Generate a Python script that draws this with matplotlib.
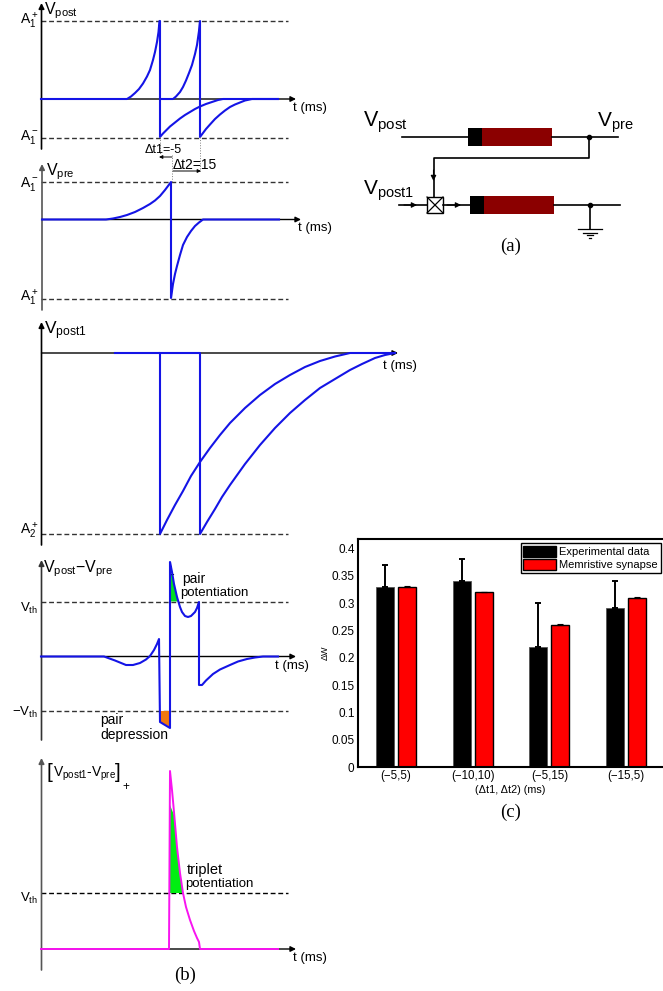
from matplotlib import pyplot as plt
from matplotlib.patches import Rectangle, Polygon

plt.rcParams['font.family'] = ['Liberation Sans', 'DejaVu Sans']
plt.rcParams['mathtext.fontset'] = 'custom'
plt.rcParams['mathtext.rm'] = 'Liberation Sans'
plt.rcParams['mathtext.it'] = 'Liberation Sans'
plt.rcParams['mathtext.bf'] = 'Liberation Sans:bold'

BLUE = '#1414e6'
MAGENTA = '#f814f0'

# bar chart values
pairs = ['(\u22125,5)', '(\u221210,10)', '(\u22125,15)', '(\u221215,5)']
experimental = [0.33, 0.34, 0.22, 0.29]
experimental_err = [0.04, 0.04, 0.08, 0.05]
memristive = [0.33, 0.32, 0.26, 0.31]
memristive_err = [0.001, 0.001, 0.001, 0.001]
yticks = [0, 0.05, 0.1, 0.15, 0.2, 0.25, 0.3, 0.35, 0.4]
yticklabels = ['0', '0.05', '0.1', '0.15', '0.2', '0.25', '0.3', '0.35', '0.4']

# waveforms (x, y in picture pixels)
post_x1 = [41, 127, 131, 135, 139, 143, 147, 150, 153, 155, 157, 158.5, 159.5, 160, 160, 163, 166, 170, 175, 180,
           185, 190, 195, 200, 206, 212, 218, 223, 278]
post_y1 = [99, 99, 96.5, 93, 89, 83.5, 76.5, 70, 60, 52, 42, 32, 21, 21, 137, 133.5, 130.5, 126.5, 122.5, 118.5,
           115, 112, 109, 106.5, 104, 102, 100, 99, 99]
post_x2 = [160, 173, 176, 180, 183, 186, 189, 192, 195, 197, 199, 200, 200, 203, 206, 210, 215, 220, 225, 230,
           235, 240, 245, 252, 278]
post_y2 = [99, 99, 96.5, 92, 87, 80.5, 73, 65, 54, 45, 31, 21, 137, 133, 129, 124.5, 119, 114.5, 110.5, 107,
           104.5, 102.5, 100.5, 99, 99]

pre_x = [42, 106, 113, 120, 127, 135, 143, 150, 155, 160, 165, 171, 171, 173, 175, 177, 180, 183, 187, 191, 195,
         199, 203, 279]
pre_y = [219.5, 219.5, 218.5, 217, 215, 212, 208, 204, 200.5, 196, 190, 182, 298, 284, 274, 266, 255, 245, 237,
         231, 226, 222.5, 219.5, 219.5]

post1_x1 = [115, 160, 160, 167, 175, 183, 191, 200, 210, 220, 230, 245, 260, 275, 290, 305, 320, 335, 350, 395]
post1_y1 = [353, 353, 534, 520, 505, 491, 476, 462, 448, 435, 423, 408, 395, 384, 375, 367, 361, 356.5, 353, 353]
post1_x2 = [160, 200, 200, 207, 215, 222, 230, 245, 260, 275, 290, 305, 320, 335, 350, 362, 375, 385, 395]
post1_y2 = [353, 353, 534, 522, 509, 497, 485, 464, 445, 428, 413, 400, 388, 379, 370, 364, 358, 355, 353]

diff_x = [41, 104, 115, 126, 133, 140, 146, 150, 154, 157, 159, 160, 170, 170, 172, 174, 177, 180, 182, 185, 188,
          191, 195, 197, 199, 199, 202, 206, 213, 220, 230, 238, 247, 255, 263, 278]
diff_y = [656.5, 656.5, 660.5, 665, 665, 663, 659.5, 656, 650, 644, 639, 722, 728, 562, 572, 584, 597, 607, 612,
          616, 617, 616, 612, 608, 602, 685, 685, 680.5, 674, 669.5, 665, 661.5, 659, 657.5, 656.5, 656.5]

trip_x = [41, 169, 170, 172, 174, 177, 180, 183, 186, 190, 194, 197, 199, 200, 278]
trip_y = [949, 949, 771, 790, 812, 847, 873, 893, 907, 920, 931, 938, 942, 949, 949]

fig = plt.figure(figsize=(6.63, 9.91), dpi=100)
ax = fig.add_axes([0, 0, 1, 1])
ax.set_xlim(0, 663)
ax.set_ylim(991, 0)
ax.axis('off')


def arrow(x0, y0, x1, y1, color='black', lw=1.0, size=8, z=1.5):
    ax.annotate('', xy=(x1, y1), xytext=(x0, y0), zorder=z,
                arrowprops=dict(arrowstyle='-|>', color=color, lw=lw, mutation_scale=size,
                                shrinkA=0, shrinkB=0))


def axes_pair(x, top, bottom, y0, right, color='black'):
    arrow(x, bottom, x, top, color=color, lw=1.2)
    arrow(x, y0, right, y0, lw=1.0)


def dashed(y, x0=41, x1=288, color='#333333'):
    ax.plot([x0, x1], [y, y], color=color, lw=1.0, ls=(0, (3.5, 2)), zorder=1)


# panel 1
axes_pair(41.5, 3, 149, 99, 296)
dashed(21)
dashed(137.5)
ax.plot(post_x1, post_y1, color=BLUE, lw=1.5)
ax.plot(post_x2, post_y2, color=BLUE, lw=1.5)
ax.plot([160, 160], [137, 155], color='gray', lw=0.7, ls=':')
ax.plot([200, 200], [137, 172], color='gray', lw=0.7, ls=':')
ax.plot([172, 172], [155, 182], color='gray', lw=0.7, ls=':')
arrow(172, 157, 159, 157, size=5, lw=0.7)
arrow(173, 171, 201, 171, size=5, lw=0.7)
ax.text(145, 150, '\u0394t1=-5', fontsize=9, va='center')
ax.text(173, 165, '\u0394t2=15', fontsize=10, va='center')

# panel 2
axes_pair(42, 164, 310, 219.5, 301, color='#555555')
dashed(182)
dashed(298.5)
ax.plot(pre_x, pre_y, color=BLUE, lw=1.5)

# panel 3
axes_pair(41.5, 322, 545, 353, 398)
dashed(534)
ax.plot(post1_x1, post1_y1, color=BLUE, lw=1.5)
ax.plot(post1_x2, post1_y2, color=BLUE, lw=1.5)

# panel 4
axes_pair(41.5, 560, 740, 656.5, 296, color='#333333')
dashed(601.5)
dashed(710.5)
ax.add_patch(Polygon([(170, 601.5), (170, 573), (172, 575), (174, 584), (177, 597), (178, 601.5)],
                     fc='#00dd22', ec='none'))
ax.plot([170, 173], [574, 574], color='black', lw=0.8)
ax.add_patch(Polygon([(160, 711), (170, 711), (170, 727), (160, 722)], fc='#f07810', ec='none'))
ax.plot(diff_x, diff_y, color=BLUE, lw=1.5)
ax.text(182, 579, 'pair', fontsize=10, va='center')
ax.text(180, 593, 'potentiation', fontsize=9.5, va='center')
ax.text(100, 720, 'pair', fontsize=10, va='center')
ax.text(100, 735, 'depression', fontsize=10, va='center')

# panel 5
axes_pair(41.5, 758, 970, 949, 296, color='#555555')
dashed(893, color='black')
ax.add_patch(Polygon([(170, 893), (170, 805), (174, 815), (177, 847), (180, 873), (183, 893)],
                     fc='#00ee11', ec='none'))
ax.plot(trip_x, trip_y, color=MAGENTA, lw=1.4)
ax.text(187, 870, 'triplet', fontsize=10.5, va='center')
ax.text(185.5, 884, 'potentiation', fontsize=9.5, va='center')

# axis names
for x, y, s, size in [(44, 11, r'$\mathrm{V_{post}}$', 11.5), (46, 172, r'$\mathrm{V_{pre}}$', 11.5),
                      (44, 331, r'$\mathrm{V_{post1}}$', 12.5),
                      (43, 569, r'$\mathrm{V_{post}}$' + '\u2212' + r'$\mathrm{V_{pre}}$', 11.5)]:
    ax.text(x, y, s, fontsize=size, va='center')
ax.text(46, 772, '[', fontsize=15, va='center')
ax.text(53, 774, r'$\mathrm{V_{post1}}$-$\mathrm{V_{pre}}$', fontsize=10, va='center')
ax.text(115, 772, ']', fontsize=15, va='center')
ax.text(122, 787, '+', fontsize=8.5, va='center')

for x, y in [(293, 108), (298, 228), (383, 366), (275, 666), (293, 958)]:
    ax.text(x, y, 't (ms)', fontsize=9.5, va='center')

for y, s in [(21, r'$\mathrm{A_1^+}$'), (137, r'$\mathrm{A_1^-}$'), (184, r'$\mathrm{A_1^-}$'),
             (298, r'$\mathrm{A_1^+}$'), (531, r'$\mathrm{A_2^+}$')]:
    ax.text(29, y, s, fontsize=10, ha='center', va='center')
for x, y, s in [(29, 608, r'$\mathrm{V_{th}}$'), (25, 712, '\u2212' + r'$\mathrm{V_{th}}$'),
                (29, 898, r'$\mathrm{V_{th}}$')]:
    ax.text(x, y, s, fontsize=9.5, ha='center', va='center')

# circuit (a)
for y, x_off in [(137.3, 0), (205, 2)]:
    ax.add_patch(Rectangle((468 + x_off, y - 9), 14, 17.5, fc='black', ec='none'))
    ax.add_patch(Rectangle((482 + x_off, y - 9), 70, 17.5, fc='#8b0000', ec='none'))
ax.plot([402, 468], [137.3, 137.3], color='black', lw=1.2)
ax.plot([552, 618], [137.3, 137.3], color='black', lw=1.2)
ax.plot([589, 589, 433.5, 433.5], [137.3, 157.7, 157.7, 197], color='black', lw=1.2)
ax.plot([399, 427], [205, 205], color='black', lw=1.2)
ax.plot([443, 470], [205, 205], color='black', lw=1.2)
ax.plot([554, 620], [205, 205], color='black', lw=1.2)
ax.plot([590, 590], [205, 229], color='black', lw=1.2)
ax.plot([589, 590], [137.3, 205], color='black', marker='o', ms=3, ls='none')
arrow(433.5, 170, 433.5, 181, size=8, lw=0.8, z=3)
arrow(404, 205, 417, 205, size=8, lw=0.8, z=3)
arrow(447, 205, 461, 205, size=8, lw=0.8, z=3)
ax.add_patch(Rectangle((427, 197), 16, 16, fc='white', ec='black', lw=1.0))
ax.plot([427, 443], [197, 213], color='black', lw=0.9)
ax.plot([427, 443], [213, 197], color='black', lw=0.9)
for y, half in [(229.3, 12), (232.7, 7), (235.3, 3), (237.7, 1)]:
    ax.plot([590 - half, 590 + half], [y, y], color='black', lw=0.9)
ax.text(363, 122, r'$\mathrm{V_{post}}$', fontsize=15.5, va='center')
ax.text(597, 123, r'$\mathrm{V_{pre}}$', fontsize=15, va='center')
ax.text(363, 191, r'$\mathrm{V_{post1}}$', fontsize=15, va='center')

for x, y, s in [(511, 246, '(a)'), (185, 975, '(b)'), (511, 812, '(c)')]:
    ax.text(x, y, s, fontsize=13.5, family='Liberation Serif', ha='center', va='center')

# bar chart (c)
bx = fig.add_axes([358 / 663, 1 - 767 / 991, 305 / 663, 228.5 / 991])
bx.patch.set_alpha(0)
pos = [1, 2, 3, 4]
off = 0.143
w = 0.235
bx.bar([p - off for p in pos], experimental, w, color='black', edgecolor='#555555', lw=0.6,
       yerr=[[0] * 4, experimental_err],
       error_kw=dict(ecolor='black', lw=1.4, capsize=2.2, capthick=1.4))
bx.bar([p + off for p in pos], memristive, w, color='#ff0000', edgecolor='black', lw=1.0,
       yerr=[[0] * 4, memristive_err],
       error_kw=dict(ecolor='black', lw=0.8, capsize=2.2, capthick=0.8))
bx.set_xlim(0.505, 4.48)
bx.set_ylim(0, 0.418)
bx.set_xticks(pos)
bx.set_xticklabels(pairs, fontsize=8.3)
bx.set_yticks(yticks)
bx.set_yticklabels(yticklabels, fontsize=8.5)
bx.tick_params(axis='both', length=0, pad=2.5)
bx.spines['right'].set_visible(False)
for side in ['left', 'top', 'bottom']:
    bx.spines[side].set_linewidth(1.5)
bx.set_xlabel('(\u0394t1, \u0394t2) (ms)', fontsize=7.8, labelpad=2)
bx.set_ylabel('\u0394W', fontsize=6.5, labelpad=1)
handles = [Rectangle((0, 0), 1, 1, fc='black', ec='black'),
           Rectangle((0, 0), 1, 1, fc='#ff0000', ec='black', lw=1.0)]
leg = bx.legend(handles, ['Experimental data', 'Memristive synapse'], loc='upper right',
                bbox_to_anchor=(0.993, 0.98), fontsize=8, fancybox=False, framealpha=1,
                edgecolor='black', borderpad=0.25, labelspacing=0.15, handlelength=2.9,
                handleheight=1.2, handletextpad=0.35, borderaxespad=0)
leg.get_frame().set_linewidth(1.0)

fig.savefig('out.png', dpi=100)
